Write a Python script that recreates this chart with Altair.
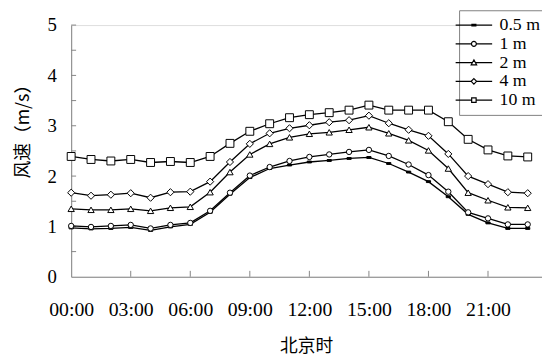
import altair as alt
import pandas as pd

hours = list(range(24))
series_names = ["0.5 m", "1 m", "2 m", "4 m", "10 m"]
v05 = [0.97, 0.95, 0.96, 0.98, 0.92, 0.99, 1.04, 1.28, 1.64, 1.97, 2.15, 2.22,
       2.28, 2.31, 2.35, 2.37, 2.25, 2.08, 1.89, 1.59, 1.24, 1.07, 0.96, 0.96]
v1 = [1.01, 0.99, 1.01, 1.03, 0.96, 1.03, 1.07, 1.31, 1.67, 2.01, 2.18, 2.30,
      2.38, 2.43, 2.48, 2.52, 2.40, 2.23, 2.02, 1.69, 1.28, 1.16, 1.04, 1.04]
v2 = [1.35, 1.33, 1.33, 1.35, 1.31, 1.37, 1.39, 1.68, 2.08, 2.43, 2.64, 2.77,
      2.84, 2.87, 2.92, 2.97, 2.85, 2.71, 2.51, 2.15, 1.67, 1.52, 1.38, 1.37]
v4 = [1.67, 1.61, 1.63, 1.66, 1.57, 1.68, 1.69, 1.89, 2.28, 2.64, 2.85, 2.95,
      3.01, 3.07, 3.11, 3.20, 3.05, 2.92, 2.80, 2.44, 2.00, 1.84, 1.68, 1.66]
v10 = [2.39, 2.33, 2.30, 2.33, 2.27, 2.29, 2.27, 2.39, 2.65, 2.89, 3.04, 3.16,
       3.22, 3.26, 3.31, 3.41, 3.31, 3.31, 3.31, 3.08, 2.73, 2.52, 2.40, 2.38]
series_values = [v05, v1, v2, v4, v10]

x_label_values = [0, 3, 6, 9, 12, 15, 18, 21]
x_tick_values = [3, 6, 9, 12, 15, 18, 21]
y_label_values = [0, 1, 2, 3, 4, 5]
y_tick_values = [0.5, 1, 1.5, 2, 2.5, 3, 3.5, 4, 4.5, 5]

rows = []
for name, vals in zip(series_names, series_values):
    for h, v in zip(hours, vals):
        rows.append({"series": name, "hour": h, "value": v})
df = pd.DataFrame(rows)

SERIF = "Liberation Serif"
CJK = "Noto Sans CJK SC"
AXIS_GRAY = "#858585"

x_enc = alt.X(
    "hour:Q",
    scale=alt.Scale(domain=[0, 23.72], nice=False, zero=False),
    axis=alt.Axis(
        values=x_label_values,
        labelExpr="(datum.value < 10 ? '0' : '') + datum.value + ':00'",
        ticks=False, grid=False,
        domainColor=AXIS_GRAY, domainWidth=1,
        labelFont=SERIF, labelFontSize=20, labelColor="black",
        labelPadding=23, labelFlush=False, labelOverlap=False,
        title="北京时", titleFont=CJK, titleFontSize=18, titleFontWeight="normal",
        titleColor="black", titleX=238, titleY=71, titleBaseline="middle",
        titleAlign="center",
    ),
)
y_enc = alt.Y(
    "value:Q",
    scale=alt.Scale(domain=[0, 5], nice=False, zero=True),
    axis=alt.Axis(
        values=y_label_values,
        ticks=False, grid=False,
        domainColor=AXIS_GRAY, domainWidth=1,
        labelFont=SERIF, labelFontSize=19, labelColor="black",
        labelPadding=15, labelFlush=False,
        title="风速（m/s）", titleFont=CJK, titleFontSize=18, titleFontWeight="normal",
        titleColor="black", titleAngle=270, titleX=-48, titleY=103,
        titleAlign="center", titleBaseline="middle",
    ),
)

base = alt.Chart(df)

lines = base.mark_line(color="black", strokeWidth=1.3).encode(
    x=x_enc, y=y_enc, detail="series:N"
)

marker_shapes = ["M-1,-0.45H1V0.45H-1Z", "circle", "triangle-up", "diamond", "square"]
marker_fills = ["black", "white", "white", "white", "white"]
marker_sizes = [18, 64, 60, 64, 52]

points = base.mark_point(filled=True, stroke="black", strokeWidth=1, opacity=1).encode(
    x=x_enc, y=y_enc,
    shape=alt.Shape("series:N", scale=alt.Scale(domain=series_names, range=marker_shapes), legend=None),
    fill=alt.Fill("series:N", scale=alt.Scale(domain=series_names, range=marker_fills), legend=None),
    size=alt.Size("series:N", scale=alt.Scale(domain=series_names, range=marker_sizes), legend=None),
)

legend_paths = [
    "M-7.4,0H7.4M-0.8,-0.3H0.8V0.3H-0.8Z",
    "M-7.4,0H-1M1,0H7.4M-1,0A1,1 0 1,0 1,0A1,1 0 1,0 -1,0Z",
    "M-7.4,0H-0.6M0.6,0H7.4M0,-1.1L1.1,0.9H-1.1Z",
    "M-7.4,0H-1.1M1.1,0H7.4M0,-1.1L1.1,0L0,1.1L-1.1,0Z",
    "M-7.4,0H-0.9M0.9,0H7.4M-0.9,-0.9H0.9V0.9H-0.9Z",
]

legend_layer = base.mark_point(filled=True, fill="white", stroke="black", strokeWidth=1.2).encode(
    x=x_enc, y=y_enc,
    shape=alt.Shape(
        "series:N",
        scale=alt.Scale(domain=series_names, range=legend_paths),
        legend=alt.Legend(
            orient="none", legendX=393, legendY=-15, title=None,
            labelFont=SERIF, labelFontSize=18, labelColor="black",
            symbolSize=25, symbolStrokeWidth=1.2, symbolOpacity=1,
            labelOffset=17, padding=6, rowPadding=1,
            strokeColor="#808080", fillColor="white", labelLimit=200,
        ),
    ),
    opacity=alt.value(0),
)

ytick_df = pd.DataFrame({"value": y_tick_values})
yticks = alt.Chart(ytick_df).mark_rule(color=AXIS_GRAY, strokeWidth=1).encode(
    y=y_enc, x=alt.value(0), x2=alt.value(5)
)
xtick_df = pd.DataFrame({"hour": x_tick_values})
xticks = alt.Chart(xtick_df).mark_rule(color=AXIS_GRAY, strokeWidth=1).encode(
    x=x_enc, y=alt.value(255), y2=alt.value(249)
)

chart = alt.layer(yticks, xticks, lines, points, legend_layer).resolve_scale(
    shape="independent"
).resolve_legend(shape="independent").properties(
    width=477, height=255,
    autosize=alt.AutoSizeParams(type="none"),
    padding={"left": 64, "top": 15, "right": 0, "bottom": 80},
).configure_view(stroke=None).configure(
    background="white"
)

chart.save("out.html", embed_options={"renderer": "svg", "actions": False})
